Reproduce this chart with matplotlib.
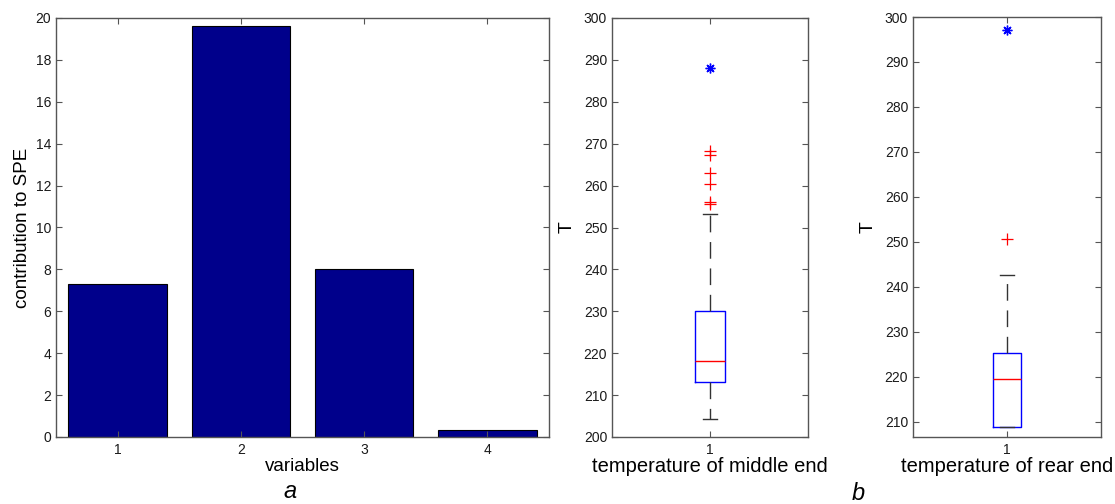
import matplotlib.pyplot as plt

plt.rcParams["font.family"] = ["Liberation Sans", "DejaVu Sans"]

# --- data ---
variables = [1, 2, 3, 4]
spe_contrib = [7.3, 19.6, 8.0, 0.32]

# middle end temperature box
mid_q1, mid_med, mid_q3 = 213.2, 218.2, 230.0
mid_whislo, mid_whishi = 204.4, 253.2
mid_fliers = [255.6, 256.2, 260.5, 263.1, 267.3, 268.2]
mid_test = [288.0]

# rear end temperature box
rear_q1, rear_med, rear_q3 = 208.9, 219.5, 225.2
rear_whislo, rear_whishi = 208.9, 242.7
rear_fliers = [250.7]
rear_test = [297.0]

W, H = 1115, 504
fig = plt.figure(figsize=(W / 100, H / 100), dpi=100)

frame_col = "#555555"
tick_kw = dict(direction="in", labelsize=10, labelcolor="#1a1a1a", length=4)


def style_axes(ax):
    for s in ax.spines.values():
        s.set_color(frame_col)
        s.set_linewidth(1.0)
    ax.tick_params(**tick_kw, top=True, right=True, color=frame_col)


# --- a) bar chart ---
ax1 = fig.add_axes([56 / W, 1 - 437 / H, 493 / W, 419 / H])
ax1.bar(variables, spe_contrib, width=0.8, color="#00008B", edgecolor="black", linewidth=0.8)
ax1.set_xlim(0.5, 4.5)
ax1.set_ylim(0, 20)
ax1.set_xticks(variables)
ax1.set_yticks(range(0, 21, 2))
style_axes(ax1)
ax1.tick_params(axis="x", pad=4)
ax1.set_xlabel("variables", fontsize=13.5, labelpad=1)
ax1.set_ylabel("contribution to SPE", fontsize=13.5, labelpad=3)


def draw_box(ax, q1, med, q3, lo, hi, fliers, test):
    stats = [dict(med=med, q1=q1, q3=q3, whislo=lo, whishi=hi, fliers=fliers)]
    ax.bxp(stats, positions=[1], widths=0.148, showfliers=True,
           boxprops=dict(color="blue", linewidth=1.0),
           medianprops=dict(color="red", linewidth=1.0),
           whiskerprops=dict(color="#333333", linestyle=(0, (12, 7)), linewidth=1.0),
           capprops=dict(color="#333333", linewidth=1.0),
           capwidths=0.075,
           flierprops=dict(marker="+", markeredgecolor="red", markersize=8,
                           markeredgewidth=0.9, linestyle="none"))
    ax.plot([1] * len(test), test, linestyle="none", marker=(8, 2, 0),
            markersize=7, markeredgecolor="blue", markeredgewidth=1.0)
    ax.set_xlim(0.5, 1.5)
    ax.set_xticks([1])
    ax.set_xticklabels(["1"])
    style_axes(ax)
    ax.tick_params(axis="x", pad=4)


# --- b) box plots ---
ax2 = fig.add_axes([612 / W, 1 - 437 / H, 196 / W, 419 / H])
draw_box(ax2, mid_q1, mid_med, mid_q3, mid_whislo, mid_whishi, mid_fliers, mid_test)
ax2.set_ylim(200, 300)
ax2.set_yticks(range(200, 301, 10))
ax2.set_xlabel("temperature of middle end", fontsize=14.5, labelpad=0)
ax2.set_ylabel("T", fontsize=14, labelpad=6)

ax3 = fig.add_axes([913 / W, 1 - 437 / H, 188 / W, 420 / H])
draw_box(ax3, rear_q1, rear_med, rear_q3, rear_whislo, rear_whishi, rear_fliers, rear_test)
ax3.set_ylim(206.6, 300)
ax3.set_yticks(range(210, 301, 10))
ax3.set_xlabel("temperature of rear end", fontsize=14.5, labelpad=0)
ax3.set_ylabel("T", fontsize=14, labelpad=6)

fig.text(290 / W, 1 - 492 / H, "a", fontsize=17, style="italic", ha="center", va="center")
fig.text(858 / W, 1 - 493 / H, "b", fontsize=17, style="italic", ha="center", va="center")

fig.savefig("out.png", dpi=100)
